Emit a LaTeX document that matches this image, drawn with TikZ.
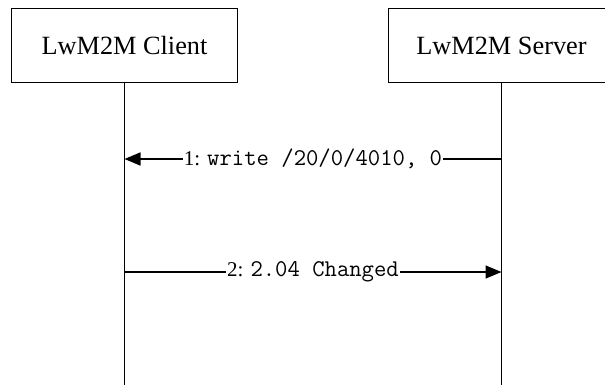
\documentclass[tikz,border=0pt]{standalone}
\usepackage{fontspec}
\setmainfont{Liberation Serif}
\usetikzlibrary{arrows.meta}
\begin{document}
\begin{tikzpicture}[x=1pt,y=-1pt,
  actor/.style={draw,line width=1.3pt,minimum width=226pt,minimum height=74pt,inner sep=0pt,font=\fontsize{26.3}{30}\selectfont},
  life/.style={line width=1.3pt},
  msg/.style={line width=1.6pt,-{Triangle[length=16pt,width=13pt]}},
  lbl/.style={fill=white,inner sep=1pt,font=\fontsize{21}{24}\selectfont},
  mono/.style={font=\fontsize{24}{26}\ttfamily}]
\clip (0,0) rectangle (605,384);
\fill[white] (0,0) rectangle (605,384);
\node[actor] (client) at (124.5,45.6) {LwM2M Client};
\node[actor] (server) at (501.5,45.6) {LwM2M Server};
\coordinate (cend) at (124.5,400);
\coordinate (send) at (501.5,400);
\draw[life] (client.south) -- (cend);
\draw[life] (server.south) -- (send);
\coordinate (s1) at (501.5,159);
\coordinate (c1) at (124.5,159);
\coordinate (c2) at (124.5,272);
\coordinate (s2) at (501.5,272);
\draw[msg] (s1) -- node[lbl] {1: {\fontsize{24}{26}\ttfamily write /20/0/4010, 0}} (c1);
\draw[msg] (c2) -- node[lbl] {2: {\fontsize{24}{26}\ttfamily 2.04 Changed}} (s2);
\end{tikzpicture}
\end{document}
